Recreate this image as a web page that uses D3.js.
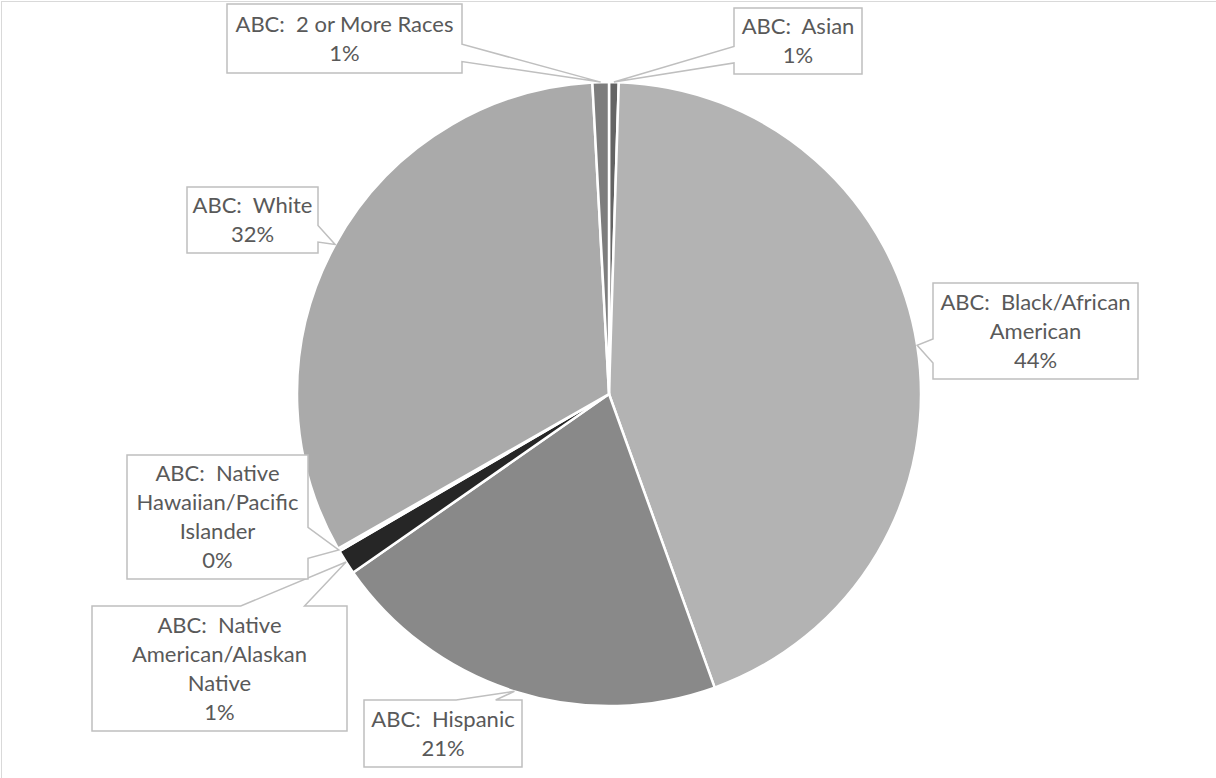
<!DOCTYPE html>
<html>
<head>
<meta charset="utf-8">
<script src="https://cdn.jsdelivr.net/npm/d3@7"></script>
<style>
  html, body { margin: 0; padding: 0; background: #ffffff; }
  svg { display: block; }
  text { font-family: Lato, "Open Sans", sans-serif; white-space: pre; }
</style>
</head>
<body>
<svg id="chart" width="1216" height="778"></svg>
<script>
// ---- data ----
const categories = [
  "ABC:  Asian",
  "ABC:  Black/African American",
  "ABC:  Hispanic",
  "ABC:  Native American/Alaskan Native",
  "ABC:  Native Hawaiian/Pacific Islander",
  "ABC:  White",
  "ABC:  2 or More Races"
];
const values = [0.5, 44.0, 20.8, 1.3, 0.15, 32.4, 0.85];
const labelLines = [
  ["ABC:  Asian"],
  ["ABC:  Black/African", "American"],
  ["ABC:  Hispanic"],
  ["ABC:  Native", "American/Alaskan", "Native"],
  ["ABC:  Native", "Hawaiian/Pacific", "Islander"],
  ["ABC:  White"],
  ["ABC:  2 or More Races"]
];

// ---- styles / layout (not data) ----
const sliceColors = ["#646464", "#b3b3b3", "#898989", "#262626", "#dcdcdc", "#aaaaaa", "#7d7d7d"];
const cx = 609, cy = 394, radius = 312;
// callout boxes [x, y, w, h]
const boxes = [
  [734, 8, 128, 66],
  [933, 283, 205, 96],
  [364, 700, 158, 67],
  [92, 606, 255, 125],
  [127, 455, 181, 124],
  [187, 187, 131, 66],
  [227, 4, 235, 69]
];

const svg = d3.select("#chart");

// chart area frame (only top & left visible)
svg.append("rect")
  .attr("x", 1.5).attr("y", 1.5)
  .attr("width", 1400).attr("height", 1000)
  .attr("fill", "none").attr("stroke", "#d9d9d9").attr("stroke-width", 1);

const pie = d3.pie().sort(null).value(d => d)
  .startAngle(0).endAngle(2 * Math.PI);
const arcs = pie(values);
const arc = d3.arc().innerRadius(0).outerRadius(radius);

const g = svg.append("g").attr("transform", `translate(${cx},${cy})`);
g.selectAll("path.slice")
  .data(arcs)
  .join("path")
  .attr("class", "slice")
  .attr("d", arc)
  .attr("fill", (d, i) => sliceColors[i])
  .attr("stroke", "#ffffff")
  .attr("stroke-width", 2.5)
  .attr("stroke-linejoin", "round");

const total = d3.sum(values);

// wedgeRectCallout geometry (OOXML style)
function calloutPath(b, tip) {
  const [l, t, w, h] = b;
  const r = l + w, bt = t + h;
  const hc = l + w / 2, vc = t + h / 2;
  const dx = tip[0] - hc, dy = tip[1] - vc;
  const dq = dx * h / w;
  const horizontal = Math.abs(dy) < Math.abs(dq);
  const x1 = l + w * (dx > 0 ? 7 : 2) / 12, x2 = l + w * (dx > 0 ? 10 : 5) / 12;
  const y1 = t + h * (dy > 0 ? 7 : 2) / 12, y2 = t + h * (dy > 0 ? 10 : 5) / 12;
  const p = d3.path();
  p.moveTo(l, t);
  if (!horizontal && dy < 0) { p.lineTo(x1, t); p.lineTo(tip[0], tip[1]); p.lineTo(x2, t); }
  p.lineTo(r, t);
  if (horizontal && dx > 0) { p.lineTo(r, y1); p.lineTo(tip[0], tip[1]); p.lineTo(r, y2); }
  p.lineTo(r, bt);
  if (!horizontal && dy > 0) { p.lineTo(x2, bt); p.lineTo(tip[0], tip[1]); p.lineTo(x1, bt); }
  p.lineTo(l, bt);
  if (horizontal && dx < 0) { p.lineTo(l, y2); p.lineTo(tip[0], tip[1]); p.lineTo(l, y1); }
  p.closePath();
  return p.toString();
}

const lineH = 29;
const lab = svg.append("g");
arcs.forEach((a, i) => {
  const mid = (a.startAngle + a.endAngle) / 2;
  const tip = [cx + radius * Math.sin(mid), cy - radius * Math.cos(mid)];
  const b = boxes[i];
  lab.append("path")
    .attr("d", calloutPath(b, tip))
    .attr("fill", "#ffffff")
    .attr("stroke", "#bfbfbf")
    .attr("stroke-width", 1.5)
    .attr("stroke-linejoin", "miter");
  const lines = labelLines[i].concat([Math.round(values[i] / total * 100) + "%"]);
  const x = b[0] + b[2] / 2;
  const y0 = b[1] + b[3] / 2 - (lines.length - 1) * lineH / 2;
  const txt = lab.append("text")
    .attr("text-anchor", "middle")
    .attr("fill", "#595959")
    .attr("font-size", 22);
  lines.forEach((ln, k) => {
    txt.append("tspan")
      .attr("x", x)
      .attr("y", y0 + k * lineH)
      .attr("dy", "0.35em")
      .text(ln);
  });
});
</script>
</body>
</html>
